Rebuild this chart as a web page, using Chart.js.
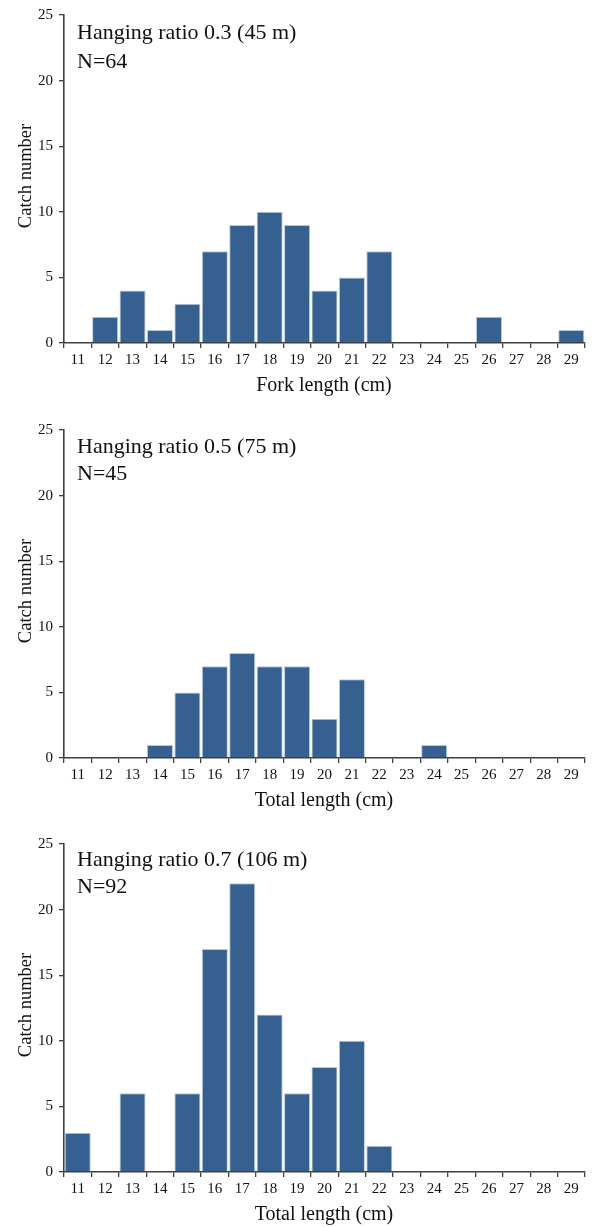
<!DOCTYPE html>
<html>
<head>
<meta charset="utf-8">
<script src="https://cdn.jsdelivr.net/npm/chart.js@4"></script>
<style>
  html, body { margin: 0; padding: 0; background: #fff; }
  body { width: 593px; height: 1227px; position: relative; overflow: hidden; }
  canvas { position: absolute; left: 0; }
</style>
</head>
<body>
<canvas id="c1" width="593" height="414" style="top:0px"></canvas>
<canvas id="c2" width="593" height="414" style="top:415px"></canvas>
<canvas id="c3" width="593" height="398" style="top:829px"></canvas>
<script>
// ---- Data ----
const lengthClasses = ['11','12','13','14','15','16','17','18','19','20','21','22','23','24','25','26','27','28','29'];
const yTickValues = [0, 5, 10, 15, 20, 25];

const catch03 = [0, 2, 4, 1, 3, 7, 9, 10, 9, 4, 5, 7, 0, 0, 0, 2, 0, 0, 1];
const catch05 = [0, 0, 0, 1, 5, 7, 8, 7, 7, 3, 6, 0, 0, 1, 0, 0, 0, 0, 0];
const catch07 = [3, 0, 6, 0, 6, 17, 22, 12, 6, 8, 10, 2, 0, 0, 0, 0, 0, 0, 0];

const panelTitles = ['Hanging ratio 0.3 (45 m)', 'Hanging ratio 0.5 (75 m)', 'Hanging ratio 0.7 (106 m)'];
const panelN = ['N=64', 'N=45', 'N=92'];
const xTitles = ['Fork length (cm)', 'Total length (cm)', 'Total length (cm)'];
const yTitle = 'Catch number';

// ---- Styling ----
const SERIF = "'Liberation Serif', 'Times New Roman', serif";
const AXIS = '#3f3f3f';
const BAR = '#36608f';
const BAR_EDGE = '#b8c8dc';
const PLOT_TOP = 14, PLOT_BOTTOM = 343, PLOT_LEFT = 64, PLOT_RIGHT = 585;

const textPlugin = {
  id: 'panelText',
  afterDraw(chart, args, opts) {
    const ctx = chart.ctx;
    ctx.save();
    ctx.fillStyle = '#111';
    ctx.textAlign = 'left';
    ctx.textBaseline = 'alphabetic';
    ctx.font = '22px ' + SERIF;
    ctx.fillText(opts.title, 77, opts.titleY);
    ctx.fillText(opts.n, 77, opts.nY);
    // x title
    ctx.textAlign = 'center';
    ctx.font = '20px ' + SERIF;
    ctx.fillText(opts.xTitle, 324, 391);
    // y title
    ctx.translate(31, 176);
    ctx.rotate(-Math.PI / 2);
    ctx.font = '18.5px ' + SERIF;
    ctx.fillText(yTitle, 0, 0);
    ctx.restore();
  }
};

function makeChart(id, values, idx, titleY, nY) {
  const canvas = document.getElementById(id);
  const H = canvas.height;
  return new Chart(canvas, {
    type: 'bar',
    data: {
      labels: lengthClasses,
      datasets: [{
        data: values,
        backgroundColor: BAR,
        borderColor: BAR_EDGE,
        borderWidth: 1,
        barPercentage: 0.95,
        categoryPercentage: 1.0
      }]
    },
    options: {
      responsive: false,
      animation: false,
      devicePixelRatio: 1,
      layout: { padding: { top: PLOT_TOP, left: 0, right: 593 - PLOT_RIGHT, bottom: 0 } },
      plugins: {
        legend: { display: false },
        tooltip: { enabled: false },
        panelText: { title: panelTitles[idx], n: panelN[idx], xTitle: xTitles[idx], titleY: titleY, nY: nY }
      },
      scales: {
        x: {
          offset: true,
          grid: { offset: true, drawOnChartArea: false, drawTicks: true, tickLength: 5, color: AXIS, lineWidth: 1.3 },
          border: { display: true, color: AXIS, width: 1.6 },
          ticks: { color: '#111', font: { family: SERIF, size: 15 }, padding: 3, maxRotation: 0, autoSkip: false },
          afterFit(scale) { scale.height = H - PLOT_BOTTOM; }
        },
        y: {
          min: 0, max: 25,
          afterBuildTicks(scale) { scale.ticks = yTickValues.map(v => ({ value: v })); },
          grid: { drawOnChartArea: false, drawTicks: true, tickLength: 5, color: AXIS, lineWidth: 1.3 },
          border: { display: true, color: AXIS, width: 1.6 },
          ticks: { color: '#111', font: { family: SERIF, size: 15 }, padding: 6 },
          afterFit(scale) { scale.width = PLOT_LEFT; }
        }
      }
    },
    plugins: [textPlugin]
  });
}

makeChart('c1', catch03, 0, 39, 68);
makeChart('c2', catch05, 1, 38, 65);
makeChart('c3', catch07, 2, 37, 64);
</script>
</body>
</html>
